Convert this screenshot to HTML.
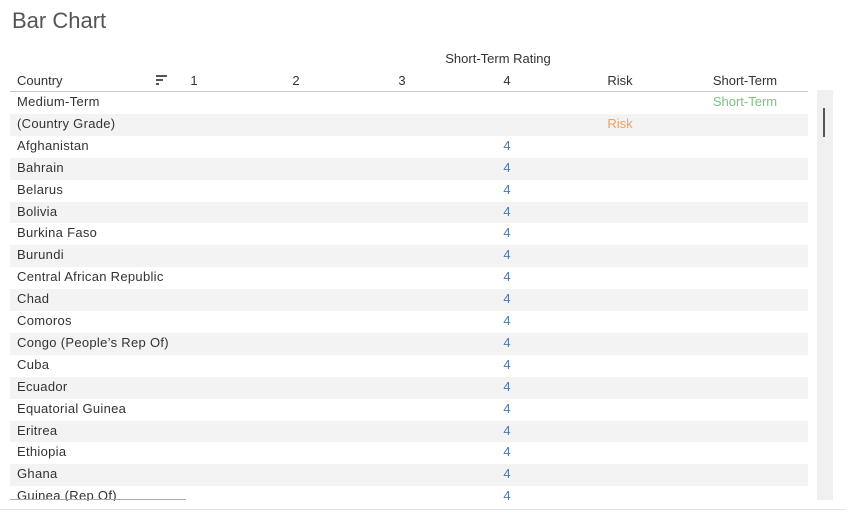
<!DOCTYPE html>
<html><head><meta charset="utf-8"><style>
body{margin:0;width:853px;height:525px;background:#fff;font-family:"Liberation Sans",sans-serif;position:relative;overflow:hidden;color:#333}
.a{position:absolute;white-space:nowrap}
.c{transform:translateX(-50%)}
</style></head><body>
<div class="a" style="left:12px;top:8px;font-size:22px;color:#555">Bar Chart</div>
<div class="a c" style="left:498px;top:51px;font-size:13px">Short-Term Rating</div>
<div class="a" style="left:17px;top:73px;font-size:13px">Country</div>
<svg class="a" style="left:156px;top:74px" width="14" height="12"><rect x="0" y="1" width="11" height="2" fill="#555"/><rect x="0" y="5" width="7" height="2" fill="#555"/><rect x="0" y="9" width="3" height="2" fill="#555"/></svg>
<div id="hdr"></div>
<div class="a" style="left:10px;top:91px;width:798px;height:1px;background:#c8c8c8"></div>
<div class="a" style="left:10px;top:92px;width:798px;height:409px;overflow:hidden" id="body"></div>
<div class="a" style="left:817px;top:90px;width:16px;height:410px;background:#f0f0f0"></div>
<div class="a" style="left:823px;top:108px;width:2px;height:29px;background:#555"></div>
<div class="a" style="left:0;top:509px;width:845px;height:1px;background:#e2e2e2"></div>
<script>
const colLabels=["1","2","3","4","Risk","Short-Term"];
const colX=[194,296,402,507,620,745];
const countries=["Medium-Term","(Country Grade)","Afghanistan","Bahrain","Belarus","Bolivia","Burkina Faso","Burundi","Central African Republic","Chad","Comoros","Congo (People’s Rep Of)","Cuba","Ecuador","Equatorial Guinea","Eritrea","Ethiopia","Ghana","Guinea (Rep Of)"];
const ratings=[null,null,4,4,4,4,4,4,4,4,4,4,4,4,4,4,4,4,4];
const hdr=document.getElementById('hdr');
colLabels.forEach((t,i)=>{const d=document.createElement('div');d.className='a c';


d.style.cssText=`left:${colX[i]}px;top:73px;font-size:13px`;d.textContent=t;hdr.appendChild(d);});
const body=document.getElementById('body');const RH=21.9;
countries.forEach((c,i)=>{const r=document.createElement('div');r.className='a';


r.style.cssText=`left:0;top:${i*RH}px;width:798px;height:${RH}px;background:${i%2?'#f3f3f3':'#fff'}`;
const l=document.createElement('div');l.className='a';l.style.cssText='left:7px;top:2px;font-size:13px;letter-spacing:0.3px;color:#333';l.textContent=c;


r.appendChild(l);
if(ratings[i]!=null){const v=document.createElement('div');v.className='a c';


const ci=colLabels.indexOf(String(ratings[i]));
v.style.cssText=`left:${colX[ci]-10}px;top:2px;font-size:13px;color:#4e79a7`;v.textContent=ratings[i];r.appendChild(v);}
if(i===0){const v=document.createElement('div');v.className='a c';


v.style.cssText='left:735px;top:2px;font-size:13px;color:#7fbf7f';v.textContent='Short-Term';r.appendChild(v);}
if(i===1){const v=document.createElement('div');v.className='a c';


v.style.cssText='left:610px;top:2px;font-size:13px;color:#f0a060';v.textContent='Risk';r.appendChild(v);}
body.appendChild(r);});
</script>
<div class="a" style="left:10px;top:499px;width:176px;height:1px;background:#aaa"></div>
</body></html>
